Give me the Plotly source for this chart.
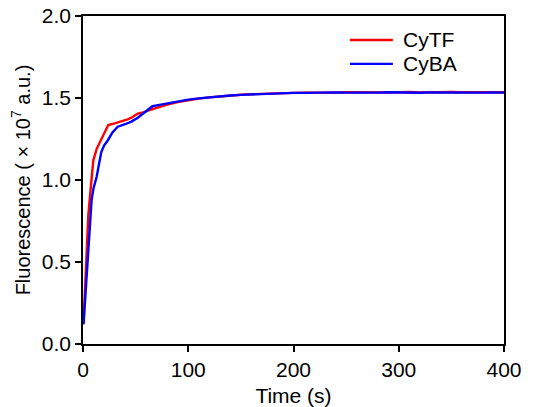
import plotly.graph_objects as go

# CyTF fluorescence trace (time in s, fluorescence in 1e7 a.u.)
cytf_time = [0.5, 2, 3.5, 5, 6.6, 8, 9.8, 13, 16, 19.3, 24, 30, 36, 41, 46, 52, 56, 60,
             65, 70, 75, 80, 90, 100, 110, 120, 130, 140, 150,
             160, 170, 180, 190, 200, 210, 220, 230, 240, 250, 260, 270, 280, 290,
             300, 310, 320, 330, 340, 350, 360, 370, 380, 390, 400]
cytf_value = [0.13, 0.36, 0.59, 0.78, 0.90, 1.02, 1.12, 1.19, 1.23, 1.275, 1.335, 1.345,
              1.355, 1.366, 1.38, 1.405, 1.41, 1.42, 1.43, 1.44, 1.45, 1.46, 1.475, 1.487,
              1.496, 1.504, 1.51, 1.516, 1.52,
              1.523, 1.526, 1.528, 1.530, 1.531, 1.533, 1.532, 1.534, 1.533, 1.535, 1.534,
              1.533, 1.536, 1.534, 1.535, 1.537, 1.534, 1.536, 1.535, 1.537, 1.535, 1.536,
              1.534, 1.536, 1.535]

# CyBA fluorescence trace
cyba_time = [0.5, 3, 5, 6.5, 8.2, 10, 11.4, 13, 15, 17.4, 20, 23.8, 28, 33, 40, 46, 52,
             57, 62, 66, 70, 80, 90, 100, 110, 120, 130, 140, 150,
             160, 170, 180, 190, 200, 210, 220, 230, 240, 250, 260, 270, 280, 290,
             300, 310, 320, 330, 340, 350, 360, 370, 380, 390, 400]
cyba_value = [0.12, 0.36, 0.51, 0.70, 0.88, 0.95, 0.98, 1.02, 1.09, 1.17, 1.21, 1.244,
              1.29, 1.325, 1.34, 1.356, 1.38, 1.406, 1.43, 1.45, 1.455, 1.468, 1.48, 1.49,
              1.498, 1.505, 1.511, 1.515, 1.519,
              1.522, 1.525, 1.527, 1.529, 1.531, 1.531, 1.533, 1.532, 1.534, 1.533, 1.532,
              1.534, 1.533, 1.535, 1.533, 1.534, 1.532, 1.534, 1.533, 1.535, 1.532, 1.534,
              1.533, 1.534, 1.533]

series_names = ["CyTF", "CyBA"]
series_colors = ["#ff0000", "#0000ff"]

x_ticks = [0, 100, 200, 300, 400]
y_ticks = [0.0, 0.5, 1.0, 1.5, 2.0]
y_tick_labels = ["0.0", "0.5", "1.0", "1.5", "2.0"]

FONT = "Liberation Sans, Arial, sans-serif"

fig = go.Figure()
for name, color, t, v in zip(series_names, series_colors,
                             [cytf_time, cyba_time], [cytf_value, cyba_value]):
    fig.add_trace(go.Scatter(x=t, y=v, mode="lines", name=name,
                             line=dict(color=color, width=2.4), showlegend=False))

# Key drawn in the upper right of the plot: short line sample + label per series
key_rows_y = [0.927, 0.854]
for name, color, ky in zip(series_names, series_colors, key_rows_y):
    fig.add_shape(type="line", xref="paper", yref="paper",
                  x0=0.634, x1=0.736, y0=ky, y1=ky,
                  line=dict(color=color, width=2.4))
    fig.add_annotation(xref="paper", yref="paper", x=0.755, y=ky,
                       xanchor="left", yanchor="middle", showarrow=False,
                       text=name, font=dict(family=FONT, size=21, color="black"))

axis_common = dict(
    showline=True, linecolor="black", linewidth=1.5, mirror=True,
    ticks="outside", ticklen=6, tickwidth=1.5, tickcolor="black",
    showgrid=False, zeroline=False, automargin=False,
    tickfont=dict(family=FONT, size=21, color="black"),
)

fig.update_xaxes(range=[0, 400], tickvals=x_ticks, ticklabelstandoff=0,
                 title=dict(text="Time (s)", font=dict(family=FONT, size=21, color="black"),
                            standoff=9),
                 **axis_common)
fig.update_yaxes(range=[0, 2.0], tickvals=y_ticks, ticktext=y_tick_labels,
                 title=dict(text="Fluorescence ( × 10<sup>7</sup> a.u.)",
                            font=dict(family=FONT, size=20, color="black"), standoff=6),
                 **axis_common)

fig.update_layout(
    width=533, height=407,
    margin=dict(l=83, r=29, t=16, b=63),
    paper_bgcolor="white", plot_bgcolor="white",
    font=dict(family=FONT, size=21, color="black"),
    showlegend=False,
)

fig.write_html("out.html")
